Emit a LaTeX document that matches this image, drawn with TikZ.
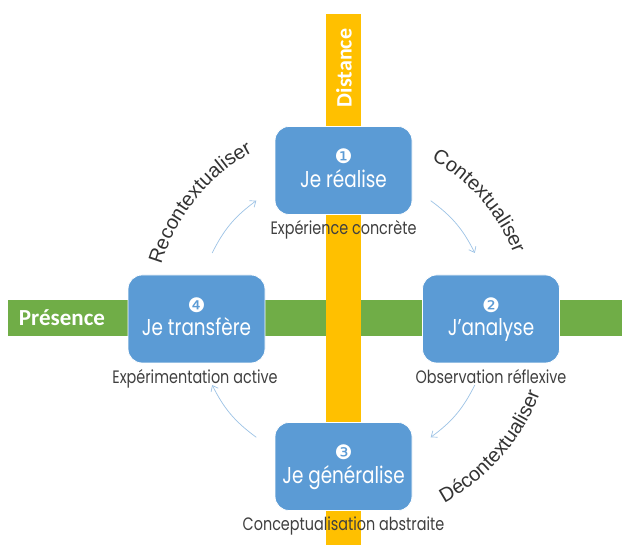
\documentclass[tikz,border=0pt]{standalone}
\usepackage{fontspec}
\usetikzlibrary{arrows.meta,decorations.text}
\definecolor{boxblue}{HTML}{5B9BD5}
\definecolor{barorange}{HTML}{FFC000}
\definecolor{bargreen}{HTML}{70AD47}
\definecolor{arrowblue}{HTML}{9DC3E6}
\definecolor{txtgray}{HTML}{404040}
\definecolor{arctxt}{HTML}{333333}
\newfontfamily\boxfont[FakeStretch=0.8]{Poppins}
\newfontfamily\calfont{Carlito}
\newfontfamily\arialfont{Liberation Sans}
\newfontfamily\symfont{DejaVu Sans}
\begin{document}
\begin{tikzpicture}[x=1pt,y=1pt,
  stagebox/.style={draw=white, line width=0.8pt, fill=boxblue, rounded corners=14pt, minimum width=137pt, minimum height=88pt, inner sep=0pt},
  numtxt/.style={text=white, font=\symfont\fontsize{20}{20}\selectfont, inner sep=0pt},
  maintxt/.style={text=white, font=\boxfont\fontsize{23}{23}\selectfont, anchor=base, inner sep=0pt},
  subtxt/.style={text=txtgray, font=\boxfont\fontsize{18}{18}\selectfont, anchor=base, inner sep=0pt},
  cyclearrow/.style={draw=arrowblue, line width=0.7pt, -{Straight Barb[length=5pt,width=8pt]}},
  bartxt/.style={text=white, font=\calfont\bfseries\fontsize{23}{23}\selectfont, inner sep=0pt},
]
\useasboundingbox (0,0) rectangle (622,545);
\fill[white] (0,0) rectangle (622,545);
% bars
\fill[bargreen] (8,209) rectangle (622,245);
\fill[barorange] (326,0) rectangle (361,531);
\node[bartxt] (presence) at (62,227) {Présence};
\node[bartxt, rotate=90, font=\calfont\bfseries\fontsize{22}{22}\selectfont] (distance) at (344,477) {Distance};
% centre of the cycle
\coordinate (c) at (343.5,226);
% boxes
\node[stagebox] (b1) at (343.5,374.5) {};
\node[stagebox] (b2) at (491,226) {};
\node[stagebox] (b3) at (343.5,78.5) {};
\node[stagebox] (b4) at (196.5,226) {};
\node[numtxt] (n1) at ([yshift=14pt]b1.center) {❶};
\node[numtxt] (n2) at ([yshift=14pt]b2.center) {❷};
\node[numtxt] (n3) at ([yshift=14pt]b3.center) {❸};
\node[numtxt] (n4) at ([yshift=14pt]b4.center) {❹};
\node[maintxt] (t1) at ([yshift=-17pt]b1.center) {Je réalise};
\node[maintxt] (t2) at ([yshift=-17pt]b2.center) {J’analyse};
\node[maintxt] (t3) at ([yshift=-17pt]b3.center) {Je généralise};
\node[maintxt] (t4) at ([yshift=-17pt]b4.center) {Je transfère};
\node[subtxt] (s1) at ([yshift=-20pt]b1.south) {Expérience concrète};
\node[subtxt] (s2) at ([yshift=-20pt]b2.south) {Observation réflexive};
\node[subtxt] (s3) at ([yshift=-20pt]b3.south) {Conceptualisation abstraite};
\node[subtxt] (s4) at ([xshift=-1.5pt,yshift=-20pt]b4.south) {Expérimentation active};
% arrow end points on the circle
\coordinate (p1s) at ([shift={(153.3:147)}]c);
\coordinate (p1e) at ([shift={(126.4:147)}]c);
\coordinate (p2s) at ([shift={(53.6:147)}]c);
\coordinate (p2e) at ([shift={(26.7:147)}]c);
\coordinate (p3s) at ([shift={(-26.7:147)}]c);
\coordinate (p3e) at ([shift={(-53.6:147)}]c);
\coordinate (p4s) at ([shift={(-126.4:147)}]c);
\coordinate (p4e) at ([shift={(-153.3:147)}]c);
\draw[cyclearrow] (p1s) to[bend left=13.5] (p1e);
\draw[cyclearrow] (p2s) to[bend left=13.5] (p2e);
\draw[cyclearrow] (p3s) to[bend left=13.5] (p3e);
\draw[cyclearrow] (p4s) to[bend left=13.5] (p4e);
% curved labels
\path[decorate, decoration={text along path, text align=center,
  text={|\arialfont\fontsize{20}{20}\selectfont\color{arctxt}|Recontextualiser}}]
  ([shift={(182:190)}]c) arc[start angle=182, end angle=100, radius=190];
\path[decorate, decoration={text along path, text align=center,
  text={|\arialfont\fontsize{20}{20}\selectfont\color{arctxt}|Contextualiser}}]
  ([shift={(82:182)}]c) arc[start angle=82, end angle=0, radius=182];
\path[decorate, decoration={text along path, text align=center,
  text={|\arialfont\fontsize{20}{20}\selectfont\color{arctxt}|Décontextualiser}}]
  ([shift={(-82:210)}]c) arc[start angle=-82, end angle=0, radius=210];
\end{tikzpicture}
\end{document}
